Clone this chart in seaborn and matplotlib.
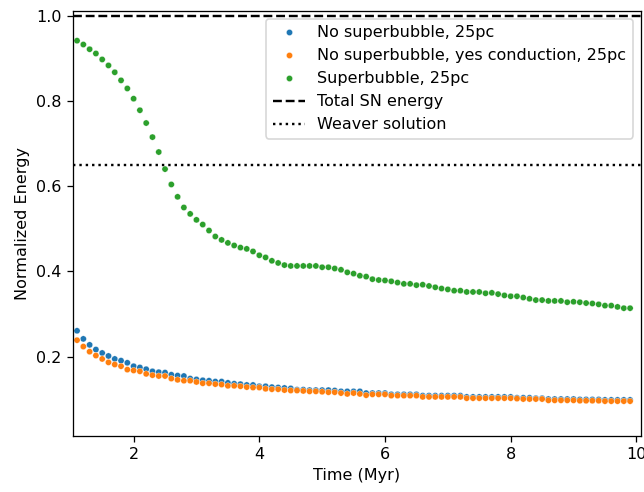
import matplotlib
matplotlib.use("Agg")
import matplotlib.pyplot as plt
import seaborn as sns
import pandas as pd

time_myr = [1.1, 1.2, 1.3, 1.4, 1.5, 1.6, 1.7, 1.8, 1.9,
            2.0, 2.1, 2.2, 2.3, 2.4, 2.5, 2.6, 2.7, 2.8, 2.9,
            3.0, 3.1, 3.2, 3.3, 3.4, 3.5, 3.6, 3.7, 3.8, 3.9,
            4.0, 4.1, 4.2, 4.3, 4.4, 4.5, 4.6, 4.7, 4.8, 4.9,
            5.0, 5.1, 5.2, 5.3, 5.4, 5.5, 5.6, 5.7, 5.8, 5.9,
            6.0, 6.1, 6.2, 6.3, 6.4, 6.5, 6.6, 6.7, 6.8, 6.9,
            7.0, 7.1, 7.2, 7.3, 7.4, 7.5, 7.6, 7.7, 7.8, 7.9,
            8.0, 8.1, 8.2, 8.3, 8.4, 8.5, 8.6, 8.7, 8.8, 8.9,
            9.0, 9.1, 9.2, 9.3, 9.4, 9.5, 9.6, 9.7, 9.8, 9.9]

no_sb = [0.261, 0.242, 0.228, 0.217, 0.209, 0.202, 0.195, 0.191, 0.186,
         0.178, 0.175, 0.171, 0.166, 0.164, 0.163, 0.158, 0.156, 0.155, 0.149,
         0.147, 0.145, 0.144, 0.142, 0.142, 0.139, 0.137, 0.136, 0.134, 0.134,
         0.131, 0.131, 0.129, 0.128, 0.127, 0.126, 0.123, 0.123, 0.122, 0.122,
         0.122, 0.122, 0.121, 0.119, 0.119, 0.119, 0.119, 0.115, 0.115, 0.115,
         0.115, 0.112, 0.112, 0.112, 0.112, 0.112, 0.109, 0.109, 0.109, 0.109,
         0.109, 0.109, 0.109, 0.106, 0.106, 0.106, 0.106, 0.106, 0.106, 0.106,
         0.106, 0.104, 0.104, 0.104, 0.103, 0.103, 0.101, 0.101, 0.101, 0.101,
         0.101, 0.100, 0.100, 0.100, 0.100, 0.099, 0.099, 0.099, 0.099, 0.099]

no_sb_cond = [0.239, 0.224, 0.212, 0.203, 0.195, 0.187, 0.182, 0.178, 0.170,
              0.168, 0.166, 0.160, 0.157, 0.155, 0.155, 0.149, 0.146, 0.144, 0.144,
              0.141, 0.138, 0.138, 0.136, 0.135, 0.132, 0.132, 0.131, 0.129, 0.128,
              0.128, 0.125, 0.124, 0.124, 0.122, 0.121, 0.121, 0.120, 0.119, 0.119,
              0.118, 0.117, 0.117, 0.115, 0.113, 0.115, 0.113, 0.110, 0.112, 0.112,
              0.112, 0.109, 0.109, 0.109, 0.109, 0.109, 0.106, 0.106, 0.106, 0.106,
              0.106, 0.106, 0.106, 0.103, 0.103, 0.103, 0.103, 0.103, 0.103, 0.103,
              0.103, 0.102, 0.101, 0.101, 0.101, 0.101, 0.098, 0.098, 0.098, 0.098,
              0.098, 0.097, 0.097, 0.097, 0.097, 0.096, 0.096, 0.096, 0.096, 0.096]

superbubble = [0.941, 0.932, 0.921, 0.911, 0.897, 0.883, 0.867, 0.848, 0.829,
               0.805, 0.778, 0.748, 0.715, 0.680, 0.640, 0.604, 0.575, 0.550, 0.535,
               0.521, 0.510, 0.496, 0.482, 0.474, 0.467, 0.461, 0.456, 0.453, 0.447,
               0.438, 0.433, 0.425, 0.420, 0.415, 0.413, 0.413, 0.413, 0.413, 0.413,
               0.410, 0.410, 0.407, 0.404, 0.398, 0.395, 0.390, 0.388, 0.382, 0.380,
               0.379, 0.377, 0.374, 0.371, 0.371, 0.368, 0.369, 0.366, 0.363, 0.360,
               0.358, 0.355, 0.355, 0.352, 0.352, 0.352, 0.349, 0.350, 0.347, 0.344,
               0.342, 0.342, 0.339, 0.336, 0.333, 0.333, 0.331, 0.331, 0.331, 0.328,
               0.329, 0.328, 0.326, 0.325, 0.323, 0.320, 0.320, 0.317, 0.314, 0.314]

series_names = ["No superbubble, 25pc",
                "No superbubble, yes conduction, 25pc",
                "Superbubble, 25pc"]
total_sn_energy = 1.0
weaver_solution = 0.65

frames = []
for name, vals in zip(series_names, [no_sb, no_sb_cond, superbubble]):
    frames.append(pd.DataFrame({"time": time_myr, "energy": vals, "run": name}))
df = pd.concat(frames, ignore_index=True)

DPI = 115
fig = plt.figure(figsize=(644 / DPI, 492 / DPI), dpi=DPI)
ax = fig.add_axes([0.113, 0.114, 0.882, 0.864])

palette = ["#1f77b4", "#ff7f0e", "#2ca02c"]
sns.scatterplot(data=df, x="time", y="energy", hue="run", hue_order=series_names,
                palette=palette, s=15, edgecolor="white", linewidth=0.2, ax=ax)

ax.axhline(total_sn_energy, color="black", linestyle="--", linewidth=1.5,
           label="Total SN energy")
ax.axhline(weaver_solution, color="black", linestyle=":", linewidth=1.5,
           label="Weaver solution")

ax.set_xlim(1.032, 10.07)
ax.set_ylim(0.0146, 1.011)
ax.set_xticks([2, 4, 6, 8, 10])
ax.set_yticks([0.2, 0.4, 0.6, 0.8, 1.0])
ax.set_xlabel("Time (Myr)")
ax.set_ylabel("Normalized Energy")

handles, labels = ax.get_legend_handles_labels()
ax.legend(handles, labels, loc="upper right", fontsize=10)

fig.savefig("out.png", dpi=DPI)
